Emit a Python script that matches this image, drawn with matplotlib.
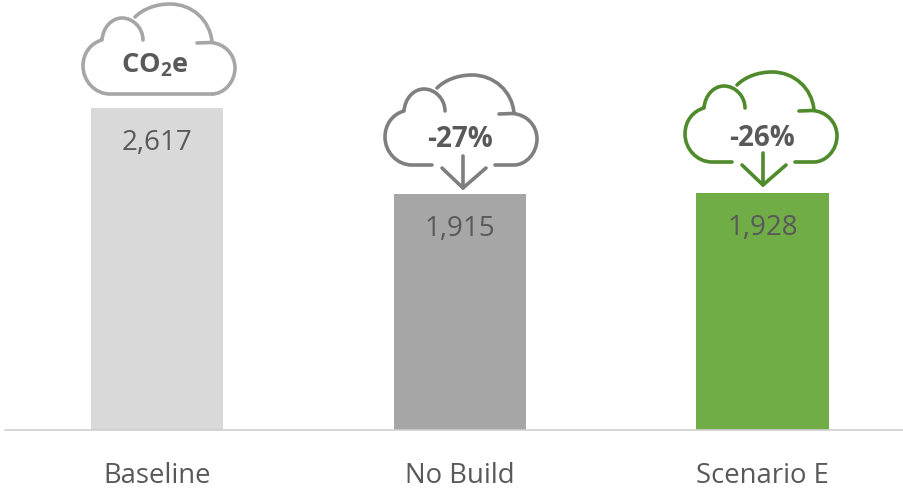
import matplotlib
matplotlib.use('Agg')
import matplotlib.pyplot as plt
from matplotlib.path import Path
from matplotlib.patches import PathPatch

plt.rcParams['font.family'] = ['Open Sans', 'DejaVu Sans']
plt.rcParams['mathtext.fontset'] = 'custom'
plt.rcParams['mathtext.bf'] = 'Open Sans:bold'
plt.rcParams['mathtext.rm'] = 'Open Sans'

## chart values
categories = ['Baseline', 'No Build', 'Scenario E']
values = [2617, 1915, 1928]
value_labels = ['2,617', '1,915', '1,928']
bar_colors = ['#d9d9d9', '#a6a6a6', '#70ad47']
cloud_labels = [r'$\mathbf{CO_2e}$', '-27%', '-26%']
cloud_colors = ['#a6a6a6', '#7f7f7f', '#4f8a2b']

TXT = '#595959'

fig = plt.figure(figsize=(9.04, 4.9), dpi=100)

## main axes, baseline at y=430px, starts at x=5px
ax = fig.add_axes([5 / 904, 60 / 490, 899 / 904, 430 / 490])
ax.set_xlim(-0.503, 2.468)
ax.set_ylim(0, 3495)
xs = range(len(categories))
bars = ax.bar(xs, values, width=0.437, color=bar_colors)
for sp in ['top', 'left', 'right']:
    ax.spines[sp].set_visible(False)
ax.spines['bottom'].set_color('#cfcfcf')
ax.spines['bottom'].set_linewidth(1.2)
ax.set_yticks([])
ax.set_xticks(list(xs))
ax.set_xticklabels(categories, fontsize=19.8, color=TXT)
ax.tick_params(axis='x', length=0, pad=23)
ax.patch.set_alpha(0)

for b, lab in zip(bars, value_labels):
    ax.annotate(lab, (b.get_x() + b.get_width() / 2, b.get_height()),
                xytext=(0, -25), textcoords='offset points',
                ha='center', va='center', fontsize=20, color=TXT)

## overlay in pixel coords for the cloud icons
ov = fig.add_axes([0, 0, 1, 1])
ov.set_xlim(0, 904)
ov.set_ylim(490, 0)
ov.axis('off')
ov.patch.set_alpha(0)

M, L, C = Path.MOVETO, Path.LINETO, Path.CURVE4


def curve(pts):
    # first point is a move, then groups of three are bezier segments
    codes = [M] + [C] * (len(pts) - 1)
    return pts, codes


def cloud(dx, dy, color, arrow):
    lw = 2.6
    # big lobe on top
    parts = [curve([(135, 17), (143, 9), (156, 4), (170, 4),
                    (192, 4), (210, 20), (212, 42)])]
    # left side with small lobe
    p = [(143, 40), (143, 28), (133, 18), (122, 18),
         (112, 18), (103, 27), (102, 40),
         (91, 43), (83, 53), (83, 66),
         (83, 81), (95, 94), (110, 94)]
    c = [M] + [C] * 12
    p.append((130 if arrow else 212, 94))
    c.append(L)
    parts.append((p, c))
    # right side
    p = [(197, 43), (210, 42.5), (224, 43), (235, 54), (235, 68),
         (235, 82), (224, 94), (212, 94)]
    c = [M, L] + [C] * 6
    if arrow:
        p.append((193, 94))
        c.append(L)
    parts.append((p, c))
    if arrow:
        parts.append(([(161, 85), (161, 117)], [M, L]))
        parts.append(([(140, 97), (161, 117), (184, 97)], [M, L, L]))
    for p, c in parts:
        path = Path([(x + dx, y + dy) for x, y in p], c)
        ov.add_patch(PathPatch(path, fill=False, edgecolor=color, lw=lw,
                               capstyle='round', joinstyle='round'))


cloud(0, 0, cloud_colors[0], False)
cloud(302, 71, cloud_colors[1], True)
cloud(602, 68, cloud_colors[2], True)

ov.text(155, 65, cloud_labels[0], ha='center', va='center', fontsize=19.5, color=TXT, fontweight='bold')
ov.text(460, 139, cloud_labels[1], ha='center', va='center', fontsize=20, color=TXT, fontweight='bold')
ov.text(762, 138, cloud_labels[2], ha='center', va='center', fontsize=20, color=TXT, fontweight='bold')

fig.savefig('out.png', dpi=100)
